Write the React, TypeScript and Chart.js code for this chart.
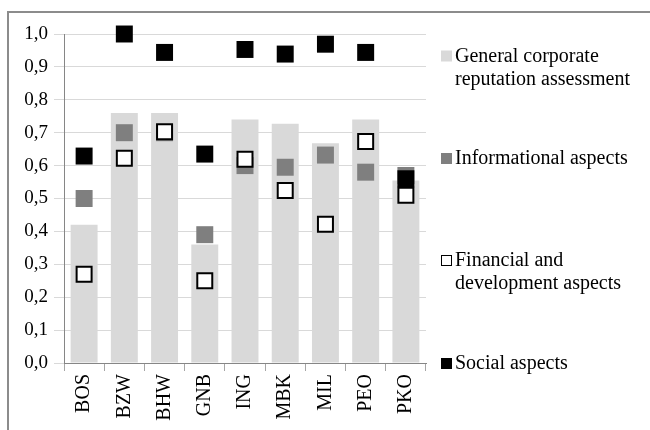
import React, { useEffect, useRef } from "react";
import { Chart, registerables } from "chart.js";

Chart.register(...registerables);

const categories = ["BOS", "BZW", "BHW", "GNB", "ING", "MBK", "MIL", "PEO", "PKO"];
const generalValues = [0.42, 0.76, 0.76, 0.36, 0.74, 0.727, 0.668, 0.74, 0.555];
const informationalValues = [0.50, 0.70, 0.70, 0.39, 0.60, 0.595, 0.632, 0.58, 0.57];
const financialValues = [0.27, 0.622, 0.703, 0.25, 0.619, 0.524, 0.422, 0.673, 0.51];
const socialValues = [0.629, 1.0, 0.944, 0.635, 0.953, 0.939, 0.969, 0.944, 0.56];
const yTicks = [0, 0.1, 0.2, 0.3, 0.4, 0.5, 0.6, 0.7, 0.8, 0.9, 1.0];

const legendItems = [
  { lines: ["General corporate", "reputation assessment"], fill: "#d9d9d9", stroke: null as string | null, y: 61.5 },
  { lines: ["Informational aspects"], fill: "#7f7f7f", stroke: null as string | null, y: 164 },
  { lines: ["Financial and", "development aspects"], fill: "#ffffff", stroke: "#000000", y: 266 },
  { lines: ["Social aspects"], fill: "#000000", stroke: null as string | null, y: 369 },
];

const FONT = '"Liberation Serif", "DejaVu Serif", serif';

const framePlugin = {
  id: "frame",
  beforeDraw(chart: any) {
    const ctx = chart.ctx;
    ctx.save();
    ctx.fillStyle = "#ffffff";
    ctx.fillRect(0, 0, chart.width, chart.height);
    ctx.strokeStyle = "#8c8c8c";
    ctx.lineWidth = 2;
    ctx.beginPath();
    ctx.moveTo(8, 430);
    ctx.lineTo(8, 12);
    ctx.lineTo(650, 12);
    ctx.stroke();
    ctx.restore();
  },
};

const legendPlugin = {
  id: "customLegend",
  afterDraw(chart: any) {
    const ctx = chart.ctx;
    ctx.save();
    ctx.font = `20px ${FONT}`;
    ctx.textBaseline = "alphabetic";
    ctx.fillStyle = "#000000";
    for (const item of legendItems) {
      const bx = 441;
      const by = item.y - 11;
      ctx.fillStyle = item.fill;
      ctx.fillRect(bx, by, 11, 11);
      if (item.stroke) {
        ctx.strokeStyle = item.stroke;
        ctx.lineWidth = 1;
        ctx.strokeRect(bx + 0.5, by + 0.5, 10, 10);
      }
      ctx.fillStyle = "#000000";
      item.lines.forEach((line, i) => {
        ctx.fillText(line, 455, item.y + i * 23);
      });
    }
    ctx.restore();
  },
};

export default function App() {
  const canvasRef = useRef<HTMLCanvasElement | null>(null);

  useEffect(() => {
    if (!canvasRef.current) return;
    let chart: Chart | null = null;
    let cancelled = false;
    const build = () => {
      if (cancelled || !canvasRef.current) return;
      chart = new Chart(canvasRef.current, {
        type: "bar",
        data: {
          labels: categories,
          datasets: [
            {
              type: "bar",
              label: "General corporate reputation assessment",
              data: generalValues,
              backgroundColor: "#d9d9d9",
              borderWidth: 0,
              barPercentage: 0.67,
              categoryPercentage: 1,
              order: 4,
            },
            {
              type: "line",
              label: "Informational aspects",
              data: informationalValues,
              showLine: false,
              clip: false,
              pointStyle: "rect",
              pointRadius: 12,
              pointBackgroundColor: "#7f7f7f",
              pointBorderColor: "#7f7f7f",
              pointBorderWidth: 0,
              order: 3,
            },
            {
              type: "line",
              label: "Social aspects",
              data: socialValues,
              showLine: false,
              clip: false,
              pointStyle: "rect",
              pointRadius: 12,
              pointBackgroundColor: "#000000",
              pointBorderColor: "#000000",
              pointBorderWidth: 0,
              order: 2,
            },
            {
              type: "line",
              label: "Financial and development aspects",
              data: financialValues,
              showLine: false,
              clip: false,
              pointStyle: "rect",
              pointRadius: 10.6,
              pointBackgroundColor: "#ffffff",
              pointBorderColor: "#000000",
              pointBorderWidth: 2,
              order: 1,
            },
          ],
        },
        options: {
          responsive: false,
          animation: false,
          events: [],
          layout: { padding: { top: 34, right: 224, left: 0, bottom: 0 } },
          plugins: {
            legend: { display: false },
            tooltip: { enabled: false },
          },
          scales: {
            x: {
              offset: true,
              grid: {
                offset: true,
                drawOnChartArea: false,
                drawTicks: true,
                tickLength: 8,
                color: "#a6a6a6",
              },
              border: { color: "#868686", width: 1 },
              ticks: {
                minRotation: 90,
                maxRotation: 90,
                padding: 3,
                color: "#000000",
                font: { family: FONT, size: 20 },
              },
              afterFit(scale: any) {
                scale.height = 67;
              },
            },
            y: {
              min: 0,
              max: 1,
              afterBuildTicks(scale: any) {
                scale.ticks = yTicks.map((v) => ({ value: v }));
              },
              grid: {
                color: "#d9d9d9",
                tickLength: 10,
                drawTicks: true,
              },
              border: { color: "#868686", width: 1 },
              ticks: {
                padding: 6,
                color: "#000000",
                font: { family: FONT, size: 19 },
                callback: (v: any) => Number(v).toFixed(1).replace(".", ","),
              },
              afterFit(scale: any) {
                scale.width = 64;
              },
            },
          },
        },
        plugins: [framePlugin, legendPlugin],
      });
    };
    const fonts: any = (document as any).fonts;
    if (fonts && fonts.load) {
      Promise.all([
        fonts.load('20px "Liberation Serif"', "General BOS 0,9"),
      ])
        .catch(() => undefined)
        .then(build);
    } else {
      build();
    }
    return () => {
      cancelled = true;
      if (chart) chart.destroy();
    };
  }, []);

  return (
    <div style={{ position: "absolute", left: 0, top: 0, width: 650, height: 430 }}>
      <canvas ref={canvasRef} width={650} height={430} style={{ display: "block" }} />
    </div>
  );
}
